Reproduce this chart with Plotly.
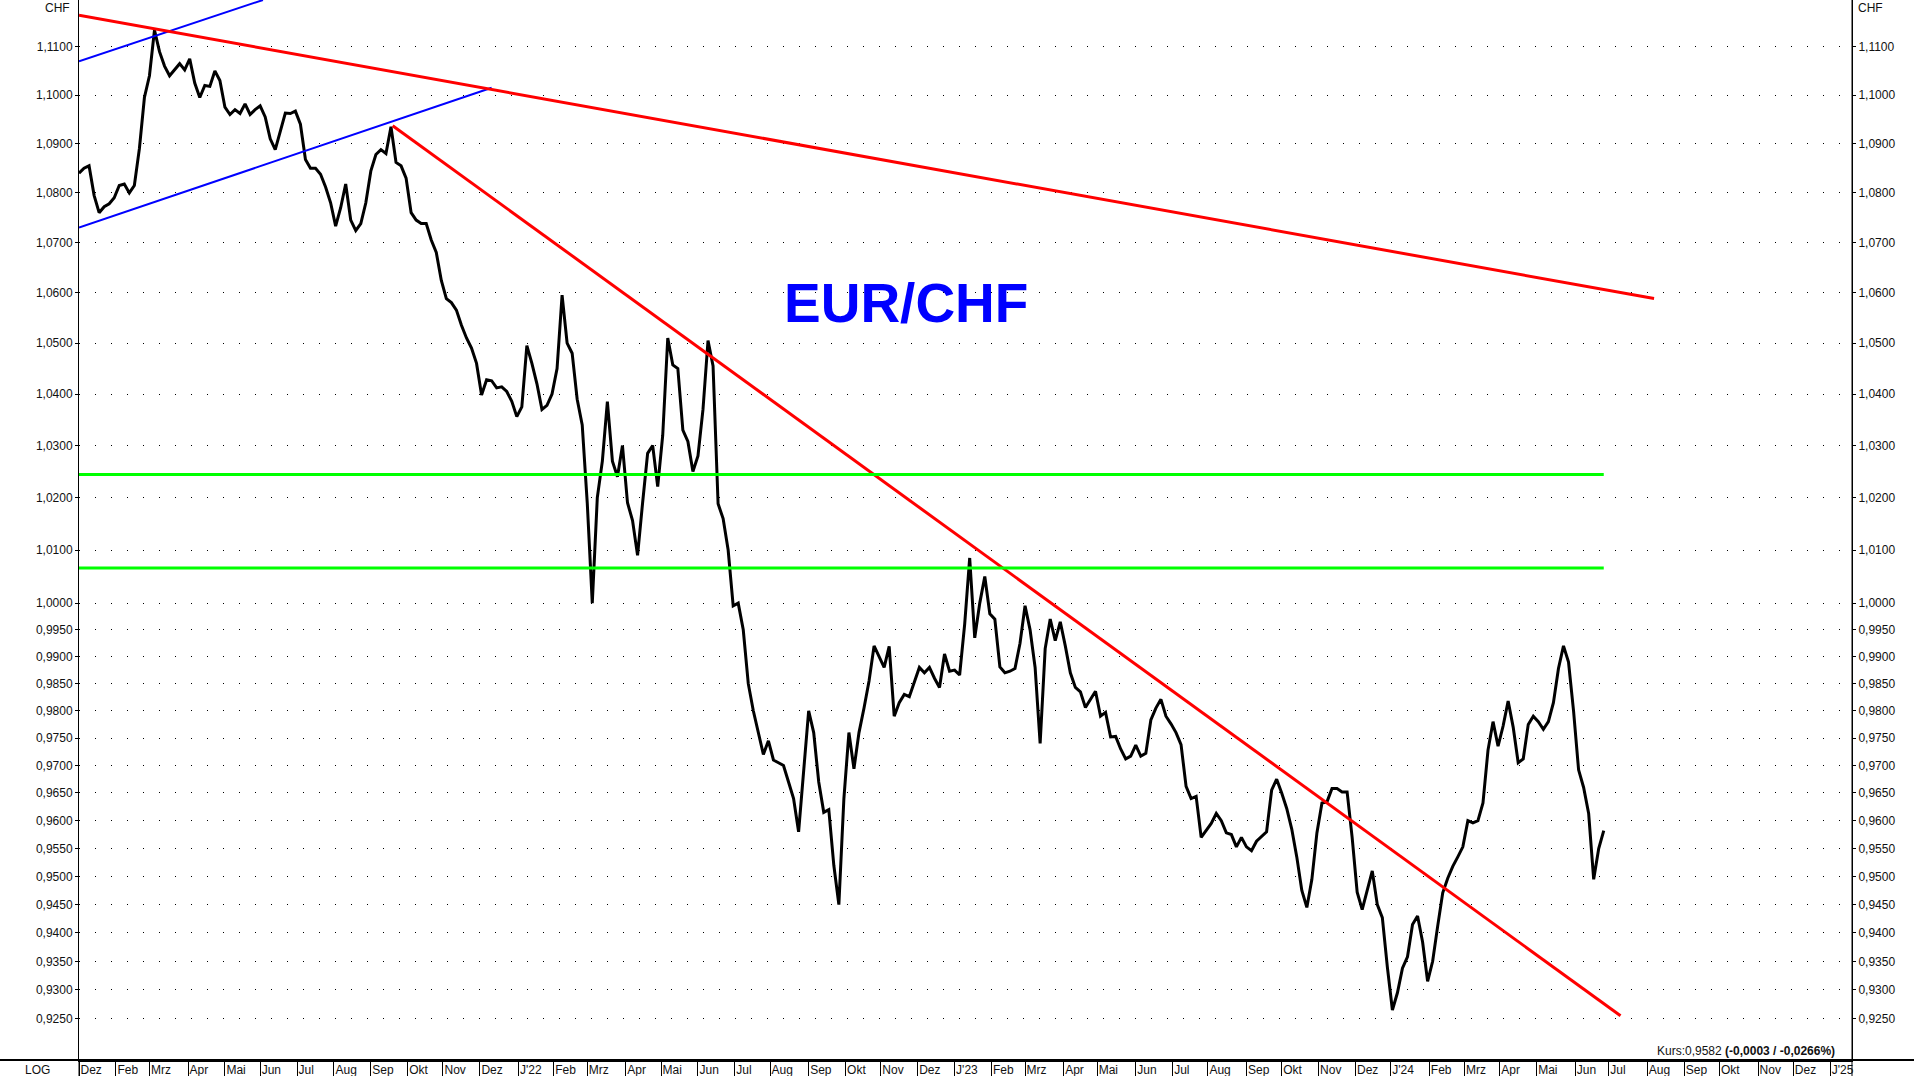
import math
import pandas as pd
import plotly.graph_objects as go

# ---------------- data ----------------
start_date = "2020-12-31"
sample_step = "3B"   # one reading every 3 trading days
close = [
    1.0840, 1.0850, 1.0855, 1.0795, 1.0760, 1.0772, 1.0778, 1.0790, 1.0815, 1.0818,
    1.0800, 1.0815, 1.0890, 1.0995, 1.1040, 1.1135, 1.1090, 1.1060, 1.1040, 1.1052,
    1.1065, 1.1052, 1.1075, 1.1025, 1.0995, 1.1020, 1.1018, 1.1050, 1.1030, 1.0975,
    1.0960, 1.0970, 1.0962, 1.0982, 1.0960, 1.0970, 1.0978, 1.0955, 1.0910, 1.0888,
    1.0925, 1.0963, 1.0962, 1.0967, 1.0940, 1.0868, 1.0850, 1.0850, 1.0838, 1.0812,
    1.0780, 1.0733, 1.0770, 1.0818, 1.0745, 1.0724, 1.0738, 1.0780, 1.0845, 1.0878,
    1.0888, 1.0880, 1.0935, 1.0862, 1.0855, 1.0830, 1.0760, 1.0745, 1.0738, 1.0738,
    1.0705, 1.0680, 1.0624, 1.0588, 1.0580, 1.0565, 1.0535, 1.0510, 1.0490, 1.0460,
    1.0398, 1.0428, 1.0426, 1.0412, 1.0414, 1.0405, 1.0386, 1.0356, 1.0375, 1.0495,
    1.0460, 1.0420, 1.0370, 1.0378, 1.0400, 1.0450, 1.0595, 1.0500, 1.0480, 1.0390,
    1.0340, 1.0190, 1.0000, 1.0200, 1.0270, 1.0385, 1.0270, 1.0240, 1.0300, 1.0190,
    1.0156, 1.0090, 1.0190, 1.0285, 1.0300, 1.0221, 1.0320, 1.0510, 1.0457, 1.0450,
    1.0330, 1.0308, 1.0250, 1.0280, 1.0370, 1.0505, 1.0455, 1.0188, 1.0160, 1.0100,
    0.9995, 1.0000, 0.9950, 0.9850, 0.9800, 0.9760, 0.9720, 0.9745, 0.9710, 0.9705,
    0.9700, 0.9670, 0.9640, 0.9580, 0.9690, 0.9800, 0.9760, 0.9670, 0.9615, 0.9620,
    0.9520, 0.9450, 0.9640, 0.9760, 0.9694, 0.9760, 0.9805, 0.9855, 0.9920, 0.9900,
    0.9880, 0.9919, 0.9790, 0.9815, 0.9830, 0.9826, 0.9852, 0.9880, 0.9870, 0.9880,
    0.9860, 0.9843, 0.9905, 0.9873, 0.9875, 0.9866, 0.9960, 1.0085, 0.9935, 1.0000,
    1.0050, 0.9980, 0.9970, 0.9881, 0.9870, 0.9873, 0.9878, 0.9925, 0.9995, 0.9950,
    0.9880, 0.9740, 0.9915, 0.9970, 0.9930, 0.9965, 0.9920, 0.9870, 0.9843, 0.9835,
    0.9806, 0.9820, 0.9836, 0.9790, 0.9797, 0.9752, 0.9753, 0.9730, 0.9712, 0.9717,
    0.9737, 0.9717, 0.9722, 0.9783, 0.9805, 0.9821, 0.9790, 0.9776, 0.9760, 0.9738,
    0.9662, 0.9640, 0.9644, 0.9570, 0.9583, 0.9595, 0.9613, 0.9600, 0.9578, 0.9575,
    0.9553, 0.9570, 0.9553, 0.9546, 0.9563, 0.9572, 0.9580, 0.9655, 0.9675, 0.9650,
    0.9622, 0.9585, 0.9535, 0.9475, 0.9445, 0.9495, 0.9578, 0.9632, 0.9634, 0.9658,
    0.9658, 0.9652, 0.9652, 0.9570, 0.9472, 0.9441, 0.9475, 0.9510, 0.9450, 0.9427,
    0.9340, 0.9265, 0.9295, 0.9338, 0.9358, 0.9415, 0.9430, 0.9384, 0.9315, 0.9350,
    0.9412, 0.9471, 0.9497, 0.9518, 0.9535, 0.9553, 0.9600, 0.9596, 0.9600, 0.9632,
    0.9728, 0.9780, 0.9735, 0.9772, 0.9818, 0.9770, 0.9705, 0.9712, 0.9775, 0.9790,
    0.9780, 0.9766, 0.9780, 0.9815, 0.9878, 0.9920, 0.9890, 0.9800, 0.9692, 0.9660,
    0.9613, 0.9495, 0.9550, 0.9582,
]

month_labels = [
    "Dez", "Feb", "Mrz", "Apr", "Mai", "Jun", "Jul", "Aug", "Sep", "Okt", "Nov", "Dez",
    "J'22", "Feb", "Mrz", "Apr", "Mai", "Jun", "Jul", "Aug", "Sep", "Okt", "Nov", "Dez",
    "J'23", "Feb", "Mrz", "Apr", "Mai", "Jun", "Jul", "Aug", "Sep", "Okt", "Nov", "Dez",
    "J'24", "Feb", "Mrz", "Apr", "Mai", "Jun", "Jul", "Aug", "Sep", "Okt", "Nov", "Dez",
    "J'25",
]
first_tick = "2020-12-31"
month_ticks_from, month_ticks_to = "2021-02-01", "2025-01-01"

y_ticks = [1.11, 1.10, 1.09, 1.08, 1.07, 1.06, 1.05, 1.04, 1.03, 1.02, 1.01, 1.00,
           0.995, 0.99, 0.985, 0.98, 0.975, 0.97, 0.965, 0.96, 0.955, 0.95, 0.945,
           0.94, 0.935, 0.93, 0.925]
y_tick_text = [("%.4f" % v).replace(".", ",") for v in y_ticks]

red_long_dates = ["2020-12-31", "2024-08-07"]
red_long_vals = [1.1166, 1.0588]
red_down_dates = ["2021-09-20", "2024-07-10"]
red_down_vals = [1.0937, 0.9255]
blue_up_dates = ["2020-12-31", "2021-06-02 16:00"]
blue_up_vals = [1.1070, 1.1198]
blue_low_dates = ["2020-12-31", "2021-12-10"]
blue_low_vals = [1.0730, 1.1015]
green_dates = ["2020-12-31", "2024-06-26"]
green_levels = [1.0244, 1.0066]

y_min, y_max = 0.91785, 1.1198
x_min, x_max = "2020-12-31", "2025-01-20"

title_text = "EUR/CHF"
kurs_text = "Kurs:0,9582 <b>(-0,0003 / -0,0266%)</b>"

# ---------------- figure ----------------
W, H = 1914, 1076
ML, MR, MT, MB = 79, 62, 0, 16
PW, PH = W - ML - MR, H - MT - MB
FONT = "Liberation Sans, Arial, sans-serif"
TXT = "#111111"

dates = pd.date_range(start=start_date, periods=len(close), freq=sample_step)
tick_dates = [pd.Timestamp(first_tick)] + list(
    pd.date_range(month_ticks_from, month_ticks_to, freq="BMS"))

fig = go.Figure()

fig.add_trace(go.Scatter(x=dates, y=close, mode="lines",
                         line=dict(color="black", width=3), name="EUR/CHF",
                         showlegend=False))

for lv in green_levels:
    fig.add_trace(go.Scatter(x=green_dates, y=[lv, lv], mode="lines",
                             line=dict(color="#00ff00", width=3),
                             showlegend=False, yaxis="y2"))

fig.add_trace(go.Scatter(x=blue_up_dates, y=blue_up_vals, mode="lines",
                         line=dict(color="#0000ff", width=2), showlegend=False))
fig.add_trace(go.Scatter(x=blue_low_dates, y=blue_low_vals, mode="lines",
                         line=dict(color="#0000ff", width=2), showlegend=False))
fig.add_trace(go.Scatter(x=red_long_dates, y=red_long_vals, mode="lines",
                         line=dict(color="#ff0000", width=3), showlegend=False))
fig.add_trace(go.Scatter(x=red_down_dates, y=red_down_vals, mode="lines",
                         line=dict(color="#ff0000", width=3), showlegend=False))

yrange = [math.log10(y_min), math.log10(y_max)]
yax_common = dict(type="log", range=yrange, autorange=False, tickmode="array",
                  tickvals=y_ticks, ticktext=y_tick_text, ticks="outside",
                  ticklen=3, tickcolor="black", tickwidth=1, showline=True,
                  linecolor="black", linewidth=1, zeroline=False,
                  tickfont=dict(family=FONT, size=12, color=TXT),
                  automargin=False)

fig.update_layout(
    width=W, height=H,
    margin=dict(l=ML, r=MR, t=MT, b=MB, pad=0),
    paper_bgcolor="white", plot_bgcolor="white",
    font=dict(family=FONT, size=12, color=TXT),
    showlegend=False,
    xaxis=dict(type="date", range=[x_min, x_max],
               rangebreaks=[dict(bounds=["sat", "mon"])],
               tickmode="array", tickvals=tick_dates, ticktext=month_labels,
               ticks="outside", ticklen=16, tickwidth=1, tickcolor="black",
               ticklabelposition="outside right", ticklabelstandoff=-2,
               ticklabeloverflow="allow",
               showline=True, linecolor="black", linewidth=2,
               showgrid=False, zeroline=False, automargin=False,
               tickfont=dict(family=FONT, size=12, color=TXT)),
    yaxis=dict(**yax_common, side="left", showgrid=True, gridcolor="black",
               gridwidth=1, griddash="1px,15px"),
    yaxis2=dict(**yax_common, side="right", overlaying="y", showgrid=False),
)

shapes = [
    dict(type="line", xref="paper", yref="paper", x0=-ML / PW, x1=1 + MR / PW,
         y0=0, y1=0, line=dict(color="black", width=2)),
    dict(type="line", xref="paper", yref="paper", x0=0, x1=0,
         y0=-MB / PH, y1=0, line=dict(color="black", width=1)),
    dict(type="line", xref="paper", yref="paper", x0=1, x1=1,
         y0=-MB / PH, y1=1, line=dict(color="black", width=1)),
]
fig.update_layout(shapes=shapes)

annotations = [
    dict(text="<b>" + title_text + "</b>", xref="paper", yref="paper",
         x=(906 - ML) / PW, y=1 - 303 / PH, xanchor="center", yanchor="middle",
         showarrow=False, font=dict(family=FONT, size=55, color="#0000ff")),
    dict(text="CHF", xref="paper", yref="paper", x=(72 - ML) / PW, y=1 - 8 / PH,
         xanchor="right", yanchor="middle", showarrow=False,
         font=dict(family=FONT, size=12, color=TXT)),
    dict(text="CHF", xref="paper", yref="paper", x=(1856 - ML) / PW, y=1 - 8 / PH,
         xanchor="left", yanchor="middle", showarrow=False,
         font=dict(family=FONT, size=12, color=TXT)),
    dict(text="LOG", xref="paper", yref="paper", x=(37 - ML) / PW, y=-10 / PH,
         xanchor="center", yanchor="middle", showarrow=False,
         font=dict(family=FONT, size=12, color=TXT)),
    dict(text=kurs_text, xref="paper", yref="paper", x=(1837 - ML) / PW,
         y=(1060 - 1051) / PH, xanchor="right", yanchor="middle", showarrow=False,
         font=dict(family=FONT, size=12, color=TXT)),
]
fig.update_layout(annotations=annotations)

fig.write_html("out.html", include_plotlyjs=True,
               config={"displayModeBar": False},
               post_script="document.body.style.margin='0';document.body.style.overflow='hidden';")
